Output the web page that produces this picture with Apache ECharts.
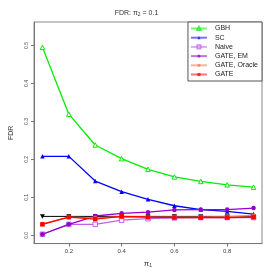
<!DOCTYPE html>
<html><head><meta charset="utf-8">
<script src="https://cdn.jsdelivr.net/npm/echarts@6/dist/echarts.min.js"></script>
<style>html,body{margin:0;padding:0;background:#fff}#c{width:273px;height:273px}</style>
</head><body><div id="c"></div>
<script>
const pi1 = [0.1,0.2,0.3,0.4,0.5,0.6,0.7,0.8,0.9];
const gbh = [0.495,0.319,0.238,0.202,0.174,0.154,0.142,0.133,0.127];
const sc = [0.208,0.208,0.143,0.115,0.095,0.078,0.068,0.063,0.056];
const naive = [0.003,0.029,0.029,0.040,0.044,0.046,0.047,0.047,0.047];
const gateEM = [0.003,0.029,0.051,0.058,0.061,0.067,0.068,0.068,0.072];
const gateOracle = [0.030,0.048,0.046,0.049,0.048,0.048,0.048,0.049,0.052];
const gate = [0.029,0.048,0.043,0.050,0.048,0.047,0.047,0.047,0.048];
const nominal = [0.05,0.05,0.05,0.05,0.05,0.05,0.05,0.05,0.05];
const xTicks = [0.2,0.4,0.6,0.8];
const yTicks = [0,0.1,0.2,0.3,0.4,0.5];

const pair = a => a.map((v,i)=>[pi1[i],v]);
const chart = echarts.init(document.getElementById('c'));
function s(name, data, color, symbol, hollow, z){
  return {name, type:'line', data:pair(data), z:z,
    symbol: symbol, symbolSize: 4.5, showSymbol:true,
    lineStyle:{color, width:1.3},
    itemStyle:{color: hollow ? '#fff' : color, borderColor: color, borderWidth: hollow?1:0},
    emphasis:{disabled:true}, animation:false};
}
const names = ['GBH','SC','Naive','GATE, EM','GATE, Oracle','GATE'];
chart.setOption({
  animation:false,
  title:{text:'FDR: {n|π}{s|2}{n| = 0.1}', left:'center', top:4,
    textStyle:{fontSize:7, fontWeight:'normal', color:'#333', fontFamily:'Liberation Sans',
      rich:{n:{fontSize:7,color:'#333',fontFamily:'Liberation Sans'}, s:{fontSize:5,color:'#333',verticalAlign:'bottom',padding:[3,0,0,0]}}}},
  grid:{left:33, right:11, top:22, bottom:26, show:true, borderColor:'#888', borderWidth:1},
  legend:{
    data:names, right:11, top:22, orient:'vertical', itemGap:2.2, itemWidth:16, itemHeight:4,
    backgroundColor:'#fff', borderColor:'#555', borderWidth:1, padding:[3,4,3,2],
    textStyle:{fontSize:7, color:'#222', fontFamily:'Liberation Sans', padding:[0,0,0,3]},
    lineStyle:{opacity:0.55}, itemStyle:{opacity:0.7}
  },
  xAxis:{type:'value', min:0.068, max:0.932,
    axisLine:{show:true, onZero:false, lineStyle:{color:'#777'}},
    axisTick:{show:true, customValues:xTicks, length:3, lineStyle:{color:'#777'}},
    axisLabel:{customValues:xTicks, fontSize:6, color:'#444', margin:5, formatter:v=>v.toFixed(1)},
    splitLine:{show:false},
    name:'{n|π}{s|1}', nameLocation:'middle', nameGap:12,
    nameTextStyle:{rich:{n:{fontSize:8,color:'#333'}, s:{fontSize:5,color:'#333',padding:[4,0,0,0]}}}},
  yAxis:{type:'value', min:-0.0216, max:0.5616,
    axisLine:{show:true, onZero:false, lineStyle:{color:'#777'}},
    axisTick:{show:true, customValues:yTicks, length:3, lineStyle:{color:'#777'}},
    axisLabel:{customValues:yTicks, fontSize:5, color:'#444', margin:5, rotate:90, formatter:v=>v.toFixed(1)},
    splitLine:{show:false},
    name:'FDR', nameLocation:'middle', nameGap:19, nameRotate:90,
    nameTextStyle:{fontSize:7, color:'#333', fontFamily:'Liberation Sans'}},
  series:[
    {name:'nominal', type:'line', data:pair(nominal), z:1, symbol:'path://M0,0 L10,0 L5,9 Z', symbolSize:5,
      showSymbol:true, lineStyle:{color:'#000', width:1}, itemStyle:{color:'#000'}, emphasis:{disabled:true},
      symbolKeepAspect:true},
    s('GBH', gbh, '#00ee00', 'triangle', true, 2),
    s('SC', sc, '#0000ff', 'triangle', false, 3),
    s('Naive', naive, '#c060e8', 'rect', true, 4),
    s('GATE, EM', gateEM, '#9400d3', 'circle', false, 5),
    s('GATE, Oracle', gateOracle, '#ff7050', 'circle', false, 6),
    s('GATE', gate, '#ff0000', 'rect', false, 7)
  ]
});
</script></body></html>
